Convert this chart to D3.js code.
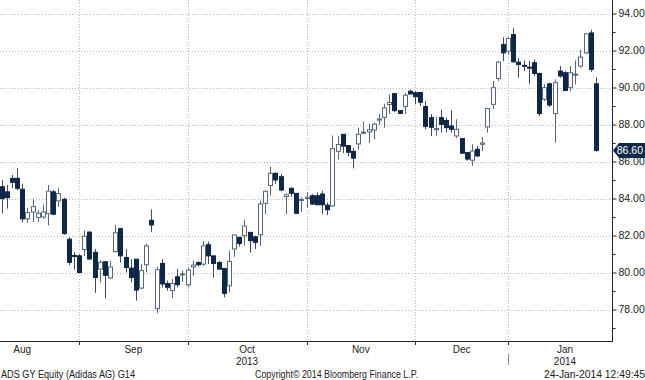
<!DOCTYPE html>
<html><head><meta charset="utf-8">
<script src="https://cdnjs.cloudflare.com/ajax/libs/d3/7.8.5/d3.min.js"></script>
<style>
html,body{margin:0;padding:0;background:#fff;}
svg{display:block;font-family:"Liberation Sans",Arial,sans-serif;}
</style></head>
<body><svg id="c" width="645" height="380"></svg>
<script>
// ---- data ----
const openV = [84.64,84.36,85.09,85.09,84.5,82.9,83.27,82.98,83.0,83.18,84.36,83.87,83.96,81.8,80.92,80.9,81.24,82.18,81.09,80.18,80.58,79.7,81.13,82.37,80.81,80.24,80.72,79.16,80.42,82.82,78.05,80.49,79.4,79.02,79.77,79.88,79.34,80.3,80.54,80.45,81.5,80.9,80.54,80.22,79.28,81.27,81.9,81.99,82.17,81.93,82.04,83.74,84.7,85.36,85.18,84.1,84.55,84.28,83.9,84.0,84.15,84.15,84.24,83.64,83.6,86.55,87.47,86.86,86.55,86.95,87.54,87.6,87.7,88.24,88.39,89.08,89.67,88.75,88.97,89.8,89.72,89.73,88.97,88.37,87.72,88.37,88.22,87.92,87.38,87.24,86.48,86.07,86.66,86.93,87.87,89.09,90.49,92.32,91.96,92.86,91.37,91.2,91.1,91.34,90.76,89.36,90.2,88.59,90.89,90.8,89.99,90.7,91.16,91.87,92.95,90.2];
const highV = [85.0,84.73,85.27,85.64,84.8,83.49,84.0,83.36,83.67,84.73,84.45,84.55,84.04,81.9,81.1,81.0,82.27,82.24,81.27,80.67,80.58,80.63,82.57,82.4,81.26,80.72,80.72,80.45,81.56,83.41,80.3,80.72,79.56,79.64,80.18,80.1,80.27,80.63,80.6,81.7,81.67,80.9,80.63,80.22,81.18,82.03,81.93,82.84,82.17,81.99,83.88,84.43,85.73,85.42,85.33,84.28,84.6,84.28,84.07,84.33,84.24,84.33,84.42,83.78,87.4,87.38,87.47,86.86,86.73,87.83,88.16,88.05,88.1,88.57,89.12,89.63,89.67,88.75,89.7,89.89,89.8,89.77,89.27,88.57,88.4,88.8,88.37,88.77,88.28,87.24,86.5,86.93,86.84,87.33,88.87,90.35,91.42,92.72,92.72,93.22,91.6,91.46,91.43,91.52,90.8,90.17,90.26,90.44,91.16,90.89,91.16,91.46,92.05,92.95,93.13,90.56];
const lowV = [83.2,83.45,84.55,84.45,82.7,82.69,82.73,82.73,82.9,82.55,83.1,83.55,82.05,80.4,80.15,79.96,80.9,80.67,78.9,79.45,78.6,79.64,81.08,80.54,80.0,79.47,78.48,79.1,80.0,82.2,77.8,79.2,79.02,78.62,79.2,79.5,79.2,79.82,80.35,80.36,80.45,79.73,80.18,78.65,78.92,80.85,81.4,81.45,81.08,81.27,81.45,83.16,84.16,84.79,84.39,83.16,84.1,83.16,83.26,83.5,83.66,83.66,83.15,83.1,83.55,86.1,86.46,86.28,85.63,86.64,87.47,87.0,87.2,87.98,87.83,88.57,88.66,88.57,88.57,89.63,89.1,88.99,87.74,87.38,87.4,87.56,87.56,87.56,87.26,86.4,86.05,85.77,86.25,86.57,87.56,88.82,90.35,91.42,91.78,91.33,90.53,90.9,90.2,90.62,88.46,89.27,88.95,87.02,90.53,89.8,89.8,90.17,91.07,91.82,90.85,86.53];
const closeV = [84.0,84.05,84.87,84.55,82.9,83.24,83.56,83.2,83.27,84.4,83.15,84.27,82.1,80.55,80.88,80.0,81.96,80.73,79.73,80.55,79.85,80.3,82.15,80.9,80.27,79.73,79.05,80.1,81.44,82.57,80.15,79.38,79.2,79.4,79.34,79.92,80.13,80.4,80.42,81.44,80.9,80.49,80.18,78.87,80.6,82.03,81.57,82.51,81.72,81.63,83.7,84.39,85.36,85.0,84.46,84.2,84.28,83.2,83.95,84.07,83.7,83.66,83.66,83.39,86.7,86.92,86.83,86.5,86.18,87.47,87.58,87.72,88.02,88.3,88.9,89.19,88.75,88.6,89.58,89.65,89.5,89.2,87.9,87.85,87.78,88.0,87.83,87.74,87.74,86.45,86.13,86.57,86.3,87.0,88.87,89.99,91.37,91.87,92.65,91.39,91.24,91.18,91.08,90.76,88.59,89.99,89.05,90.26,90.62,89.84,90.8,90.72,91.64,92.9,90.98,86.6];
const yMajorTicks = [78,80,82,84,86,88,90,92,94];
const yMinorTicks = [77,79,81,83,85,87,89,91,93];
const monthLabels = ["Aug","Sep","Oct","Nov","Dec","Jan"];
const monthStarts = [-7,15,36,59,80,98,120];   // trading-day index of each month start
const yearLabels = [{label:"2013", month:2},{label:"2014", month:5}];
const lastPrice = 86.60;
const footerLeft = "ADS GY Equity (Adidas AG) G14";
const footerMid = "Copyright\u00A9 2014 Bloomberg Finance L.P.";
const footerRight = "24-Jan-2014 12:49:45";

// ---- layout ----
const svg = d3.select("#c");
const axisX = 612, axisY = 341;
const x = d3.scaleLinear().domain([0, openV.length - 1]).range([1.5, 596]);
const y = d3.scaleLinear().domain([78, 94]).range([309.5, 13.5]);
const NAVY = "#0f2748", HOLLOW = "#56667d", WICK = "#3e4b5d", GRID = "#b9b9b9";

const plot = svg.append("g");
plot.append("clipPath").attr("id","clip").append("rect").attr("x",0).attr("y",0).attr("width",axisX).attr("height",axisY);

// gridlines
plot.selectAll("line.hg").data(yMajorTicks).join("line").attr("class","hg")
  .attr("x1",0).attr("x2",axisX).attr("y1",d=>Math.round(y(d))+0.5).attr("y2",d=>Math.round(y(d))+0.5)
  .attr("stroke",GRID).attr("stroke-dasharray","1,2");
plot.selectAll("line.vg").data(monthStarts.slice(1,6)).join("line").attr("class","vg")
  .attr("x1",d=>Math.round(x(d))+0.5).attr("x2",d=>Math.round(x(d))+0.5).attr("y1",0).attr("y2",axisY)
  .attr("stroke",GRID).attr("stroke-dasharray","1,2");

// candles
const data = openV.map((o,i)=>({i,o,h:highV[i],l:lowV[i],c:closeV[i]}));
const cg = plot.append("g").attr("clip-path","url(#clip)");
const bw = 4;
const candle = cg.selectAll("g.cd").data(data).join("g").attr("class","cd");
candle.append("line")
  .attr("x1",d=>Math.round(x(d.i))+0.5).attr("x2",d=>Math.round(x(d.i))+0.5)
  .attr("y1",d=>y(d.h)).attr("y2",d=>y(d.l))
  .attr("stroke",d=>d.c>=d.o?HOLLOW:WICK).attr("stroke-width",1);
candle.append("rect")
  .attr("x",d=>Math.round(x(d.i))-bw/2+0.5)
  .attr("y",d=>y(Math.max(d.o,d.c)))
  .attr("width",bw)
  .attr("height",d=>Math.max(1,Math.abs(y(d.o)-y(d.c))))
  .attr("fill",d=>d.c>=d.o?"#fff":NAVY)
  .attr("stroke",d=>d.c>=d.o?HOLLOW:NAVY)
  .attr("stroke-width",1);

// right axis
const ax = svg.append("g").attr("transform",`translate(${axisX+0.5},0)`);
ax.append("line").attr("x1",0).attr("x2",0).attr("y1",0).attr("y2",axisY).attr("stroke","#222");
ax.call(g=>{
  const a = d3.axisRight(y).tickValues(yMajorTicks).tickFormat(d3.format(".2f")).tickSize(4).tickPadding(2);
  g.append("g").call(a).call(s=>s.select(".domain").remove())
   .call(s=>s.selectAll("text").attr("font-size","10.5px").attr("fill","#222").attr("font-family","Liberation Sans, Arial, sans-serif"))
   .call(s=>s.selectAll("line").attr("stroke","#222"));
  const m = d3.axisRight(y).tickValues(yMinorTicks).tickFormat("").tickSize(3);
  g.append("g").call(m).call(s=>s.select(".domain").remove()).call(s=>s.selectAll("line").attr("stroke","#222"));
});

// last price tag
const ty = y(lastPrice);
svg.append("path")
  .attr("d",`M${axisX+1},${ty} L${axisX+7},${ty-7.5} L645,${ty-7.5} L645,${ty+7.5} L${axisX+7},${ty+7.5} Z`)
  .attr("fill",NAVY);
svg.append("text").attr("x",643).attr("y",ty+4).attr("text-anchor","end")
  .attr("fill","#fff").attr("font-size","10.5px").text(d3.format(".2f")(lastPrice));

// bottom axis
const bx = svg.append("g");
bx.append("line").attr("x1",0).attr("x2",axisX+1).attr("y1",axisY+0.5).attr("y2",axisY+0.5).attr("stroke","#222");
bx.selectAll("line.mt").data(monthStarts.slice(1,6)).join("line").attr("class","mt")
  .attr("x1",d=>Math.round(x(d))+0.5).attr("x2",d=>Math.round(x(d))+0.5)
  .attr("y1",axisY).attr("y2",axisY+4).attr("stroke","#222");
bx.selectAll("text.ml").data(monthLabels).join("text").attr("class","ml")
  .attr("x",(d,k)=>x((monthStarts[k]+monthStarts[k+1])/2)).attr("y",axisY+12)
  .attr("text-anchor","middle").attr("font-size","10px").attr("fill","#222").text(d=>d);
bx.selectAll("text.yl").data(yearLabels).join("text").attr("class","yl")
  .attr("x",d=>x((monthStarts[d.month]+monthStarts[d.month+1])/2)).attr("y",axisY+24)
  .attr("text-anchor","middle").attr("font-size","10px").attr("fill","#222").text(d=>d.label);
bx.append("line").attr("x1",Math.round(x(monthStarts[5]))+0.5).attr("x2",Math.round(x(monthStarts[5]))+0.5)
  .attr("y1",axisY+13).attr("y2",axisY+24).attr("stroke","#888");

// footer
const fy = 378;
svg.append("text").attr("x",1).attr("y",fy).attr("font-size","10px").attr("fill","#222")
  .attr("textLength",134).attr("lengthAdjust","spacingAndGlyphs").text(footerLeft);
svg.append("text").attr("x",255).attr("y",fy).attr("font-size","10px").attr("fill","#222")
  .attr("textLength",163).attr("lengthAdjust","spacingAndGlyphs").text(footerMid);
svg.append("text").attr("x",544).attr("y",fy).attr("font-size","10px").attr("fill","#222")
  .attr("textLength",101).attr("lengthAdjust","spacingAndGlyphs").text(footerRight);
</script></body></html>
